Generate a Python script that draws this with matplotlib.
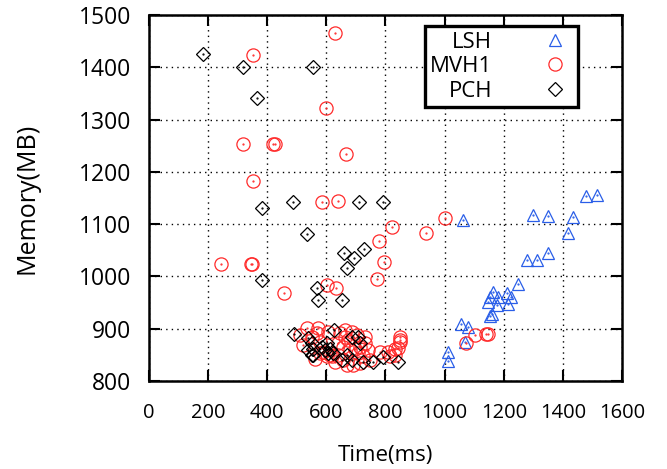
import matplotlib
matplotlib.use("Agg")
import matplotlib.pyplot as plt

# LSH (blue triangles)
lsh_time = [1010, 1010, 1063, 1055, 1078, 1069, 1153, 1160, 1148, 1176, 1213, 1153, 1182,
            1225, 1165, 1210, 1247, 1278, 1311, 1351, 1300, 1349, 1433, 1416, 1477, 1514]
lsh_mem = [838, 856, 1108, 909, 904, 874, 924, 928, 952, 945, 947, 961, 960,
           960, 971, 968, 985, 1031, 1031, 1045, 1117, 1116, 1114, 1084, 1154, 1156]

# MVH1 (red circles)
mvh_time = [629, 353, 598, 319, 420, 426, 666, 353, 586, 638, 821, 779, 796, 772,
            243, 345, 349, 457, 601, 633, 1001, 937, 1103, 1140, 1148, 1071,
            849, 849, 832,
            533, 511, 567, 522, 579, 550, 590, 612, 646, 663, 674, 703, 731, 641,
            657, 680, 697, 714, 731, 742, 641, 657, 669, 691, 714, 629, 618, 601,
            782, 810, 815, 849, 844, 832, 725, 748, 573, 607, 663, 686, 708, 579, 562]
mvh_mem = [1465, 1424, 1322, 1253, 1253, 1253, 1234, 1183, 1142, 1144, 1094, 1068, 1028, 996,
           1024, 1024, 1024, 969, 984, 978, 1111, 1084, 888, 889, 889, 872,
           885, 875, 862,
           901, 888, 891, 869, 875, 885, 856, 850, 891, 885, 878, 888, 885, 872,
           866, 859, 862, 866, 872, 859, 850, 840, 831, 831, 834, 837, 847, 847,
           856, 856, 847, 878, 863, 850, 847, 840, 901, 894, 898, 894, 853, 853, 843]

# PCH (black diamonds)
pch_time = [181, 319, 554, 364, 381, 488, 711, 791, 533, 660, 693, 728, 669, 381,
            567, 573, 652, 491, 627, 539, 551, 556, 556, 601, 612, 624, 607,
            686, 708, 714, 669, 686, 652, 725, 759, 793, 843, 584, 595, 539, 551]
pch_mem = [1425, 1400, 1400, 1341, 1130, 1143, 1143, 1143, 1081, 1044, 1036, 1052, 1016, 994,
           977, 954, 954, 889, 898, 882, 872, 862, 850, 872, 862, 853, 853,
           885, 885, 872, 850, 840, 840, 837, 837, 846, 837, 866, 859, 859, 850]

x_ticks = [0, 200, 400, 600, 800, 1000, 1200, 1400, 1600]
y_ticks = [800, 900, 1000, 1100, 1200, 1300, 1400, 1500]

plt.rcParams["font.family"] = ["Open Sans", "DejaVu Sans"]

fig = plt.figure(figsize=(6.67, 4.69), dpi=100)
ax = fig.add_axes([0.2234, 0.1876, 0.7091, 0.7804])

series = [
    ("LSH", lsh_time, lsh_mem, "^", "#2a5ee8", 9),
    ("MVH1", mvh_time, mvh_mem, "o", "#ff2a2a", 9.5),
    ("PCH", pch_time, pch_mem, "D", "#000000", 7),
]
for label, xs, ys, mk, col, ms in series:
    ax.plot(xs, ys, linestyle="none", marker=mk, markersize=ms, markerfacecolor="none",
            markeredgecolor=col, markeredgewidth=0.9, label=label)
    ax.plot(xs, ys, linestyle="none", marker=".", markersize=1.2, color=col)

ax.set_xlim(0, 1600)
ax.set_ylim(800, 1500)
ax.set_xticks(x_ticks)
ax.set_yticks(y_ticks)
ax.tick_params(direction="in", length=8, width=1.5, top=True, right=True)
ax.tick_params(axis="x", labelsize=14.5, pad=16)
ax.tick_params(axis="y", labelsize=16.5, pad=13)
ax.grid(True, color="black", linestyle=(0, (1, 3)), linewidth=1)
for s in ax.spines.values():
    s.set_linewidth(1.8)

ax.set_xlabel("Time(ms)", fontsize=16, labelpad=16)
ax.set_ylabel("Memory(MB)", fontsize=18, labelpad=28)

leg = ax.legend(loc="upper right", bbox_to_anchor=(0.907, 0.970), borderaxespad=0,
                markerfirst=False, fontsize=16, numpoints=1, handlelength=1.6,
                handletextpad=2.0, borderpad=0.25, labelspacing=0.16,
                fancybox=False, framealpha=1)
leg.get_frame().set_edgecolor("black")
leg.get_frame().set_linewidth(2.4)

fig.savefig("out.png", dpi=100)
